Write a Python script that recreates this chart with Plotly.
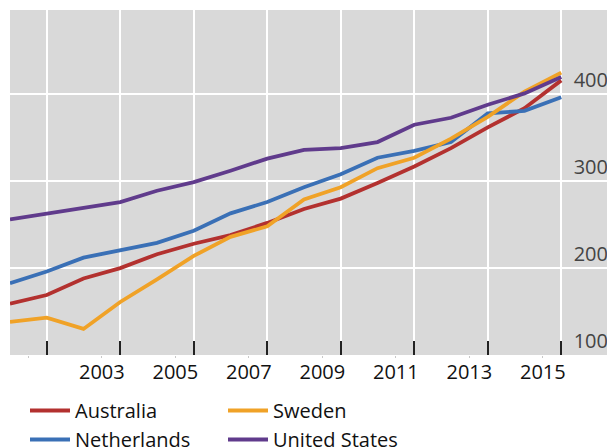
import plotly.graph_objects as go

years = list(range(2000, 2016))
australia = [159, 169, 188, 200, 216, 228, 238, 252, 268, 280, 298, 317, 338, 362, 384, 416]
netherlands = [182.5, 196, 212, 221, 229, 243, 263, 276, 293, 308, 327, 335, 345, 378, 381, 396.5]
sweden = [138, 143, 130, 161, 187, 214, 236, 248, 279, 293, 315, 327, 349, 374, 403, 425]
united_states = [256, 263, 270, 276, 289, 299, 312, 326, 336, 338, 345, 365, 373, 388, 401, 420]

label_years = [2001, 2003, 2005, 2007, 2009, 2011, 2013, 2015]
label_text = ["", "2003", "2005", "2007", "2009", "2011", "2013", "2015"]
y_ticks = [100, 200, 300, 400]

series = [
    ("Australia", australia, "#b3312f", "g1"),
    ("Netherlands", netherlands, "#3a70b6", "g1"),
    ("Sweden", sweden, "#f0a227", "g2"),
    ("United States", united_states, "#603b8c", "g2"),
]

x = [y + 0.5 for y in years]

fig = go.Figure()
for name, vals, color, grp in series:
    fig.add_trace(go.Scatter(x=x, y=vals, name=name, mode="lines",
                             line=dict(color=color, width=3.8),
                             legendgroup=grp))

fig.update_layout(
    width=607, height=448,
    margin=dict(l=10, r=0, t=10, b=93, autoexpand=False),
    paper_bgcolor="white",
    plot_bgcolor="#d9d9d9",
    font=dict(family="Open Sans", size=20, color="#111111"),
    showlegend=True,
    legend=dict(orientation="h", traceorder="grouped", tracegroupgap=0,
                entrywidth=143, entrywidthmode="pixels",
                x=25 / 607, xref="container", xanchor="left",
                y=1 - 391 / 448, yref="container", yanchor="top",
                font=dict(size=20), bgcolor="rgba(0,0,0,0)", itemwidth=40),
    xaxis=dict(
        range=[2000.5, 2016.745],
        tickmode="array", tickvals=label_years, ticktext=label_text,
        ticks="outside", ticklen=2, tickcolor="#c8c8c8", tickwidth=1,
        ticklabelstandoff=-3,
        showgrid=False, zeroline=False, showline=False,
        minor=dict(tickmode="linear", tick0=2001.5, dtick=2,
                   ticks="inside", ticklen=14, tickwidth=1.5, tickcolor="#222222",
                   showgrid=True, gridcolor="white", gridwidth=1.5),
    ),
    yaxis=dict(
        range=[100, 497], side="right",
        tickmode="array", tickvals=y_ticks,
        ticklabelposition="inside top", ticklabelstandoff=-4,
        ticks="", showgrid=True, gridcolor="white", gridwidth=1.5,
        zeroline=False, showline=False,
    ),
)

fig.write_html("out.html", config={"displayModeBar": False},
               post_script="document.body.style.margin='0';")
